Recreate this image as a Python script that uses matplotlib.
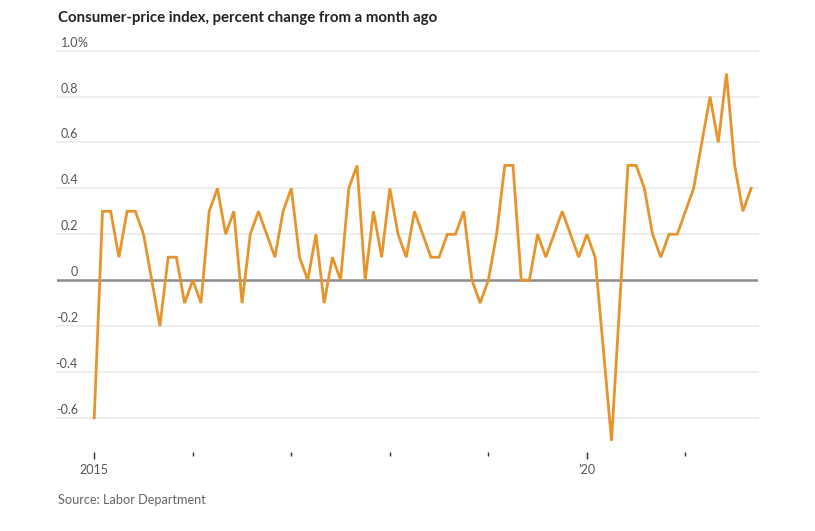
import matplotlib.pyplot as plt
import matplotlib.transforms as mtransforms

# monthly CPI change, Jan 2015 .. Sep 2021
cpi_2015 = [-0.6, 0.3, 0.3, 0.1, 0.3, 0.3, 0.2, 0.0, -0.2, 0.1, 0.1, -0.1]
cpi_2016 = [0.0, -0.1, 0.3, 0.4, 0.2, 0.3, -0.1, 0.2, 0.3, 0.2, 0.1, 0.3]
cpi_2017 = [0.4, 0.1, 0.0, 0.2, -0.1, 0.1, 0.0, 0.4, 0.5, 0.0, 0.3, 0.1]
cpi_2018 = [0.4, 0.2, 0.1, 0.3, 0.2, 0.1, 0.1, 0.2, 0.2, 0.3, 0.0, -0.1]
cpi_2019 = [0.0, 0.2, 0.5, 0.5, 0.0, 0.0, 0.2, 0.1, 0.2, 0.3, 0.2, 0.1]
cpi_2020 = [0.2, 0.1, -0.3, -0.7, -0.1, 0.5, 0.5, 0.4, 0.2, 0.1, 0.2, 0.2]
cpi_2021 = [0.3, 0.4, 0.6, 0.8, 0.6, 0.9, 0.5, 0.3, 0.4]

values = cpi_2015 + cpi_2016 + cpi_2017 + cpi_2018 + cpi_2019 + cpi_2020 + cpi_2021
months = list(range(len(values)))

y_ticks = [1.0, 0.8, 0.6, 0.4, 0.2, 0, -0.2, -0.4, -0.6]
y_labels = ['1.0', '0.8', '0.6', '0.4', '0.2', '0', '-0.2', '-0.4', '-0.6']
year_ticks = [0, 12, 24, 36, 48, 60, 72]
year_labels = ['2015', '', '', '', '', '\u201920', '']

plt.rcParams['font.family'] = ['Lato', 'DejaVu Sans']

fig = plt.figure(figsize=(8.15, 5.31), dpi=100)
ax = fig.add_axes([57 / 815, 1 - 452 / 531, 701 / 815, 401.3 / 531])

ax.set_xlim(-4.54, 80.84)
ax.set_ylim(-0.749, 1.0)

for v in y_ticks:
    if v == 0:
        ax.axhline(0, color='#8c8c8c', lw=1.8, zorder=2)
    else:
        ax.axhline(v, color='#eeeeee', lw=1.4, zorder=1, clip_on=False)

ax.plot(months, values, color='#e5952b', lw=2.0, zorder=3, solid_joinstyle='miter')

trans = mtransforms.blended_transform_factory(fig.transFigure, ax.transData)
off = mtransforms.offset_copy(trans, fig=fig, x=0, y=1.5, units='points')
for v, lab in zip(y_ticks, y_labels):
    ax.text(78 / 815, v, lab, transform=off, ha='right', va='bottom',
            fontsize=9, color='#555555')
ax.text(78 / 815, 1.0, '%', transform=off, ha='left', va='bottom',
        fontsize=9, color='#555555')

for s in ax.spines.values():
    s.set_visible(False)
ax.set_yticks([])
ax.set_xticks(year_ticks)
ax.set_xticklabels(year_labels, fontsize=9, color='#555555')
ax.tick_params(axis='x', length=3, width=1, color='#333333', pad=6)
for t, lab in zip(ax.xaxis.get_major_ticks(), year_labels):
    if lab:
        t.tick1line.set_markersize(5)

fig.text(58 / 815, 1 - 18 / 531, 'Consumer-price index, percent change from a month ago',
         fontsize=10.8, fontweight='bold', color='#222222', va='center', ha='left')
fig.text(58 / 815, 1 - 500 / 531, 'Source: Labor Department',
         fontsize=9.2, color='#666666', va='center', ha='left')

fig.savefig('out.png', dpi=100)
